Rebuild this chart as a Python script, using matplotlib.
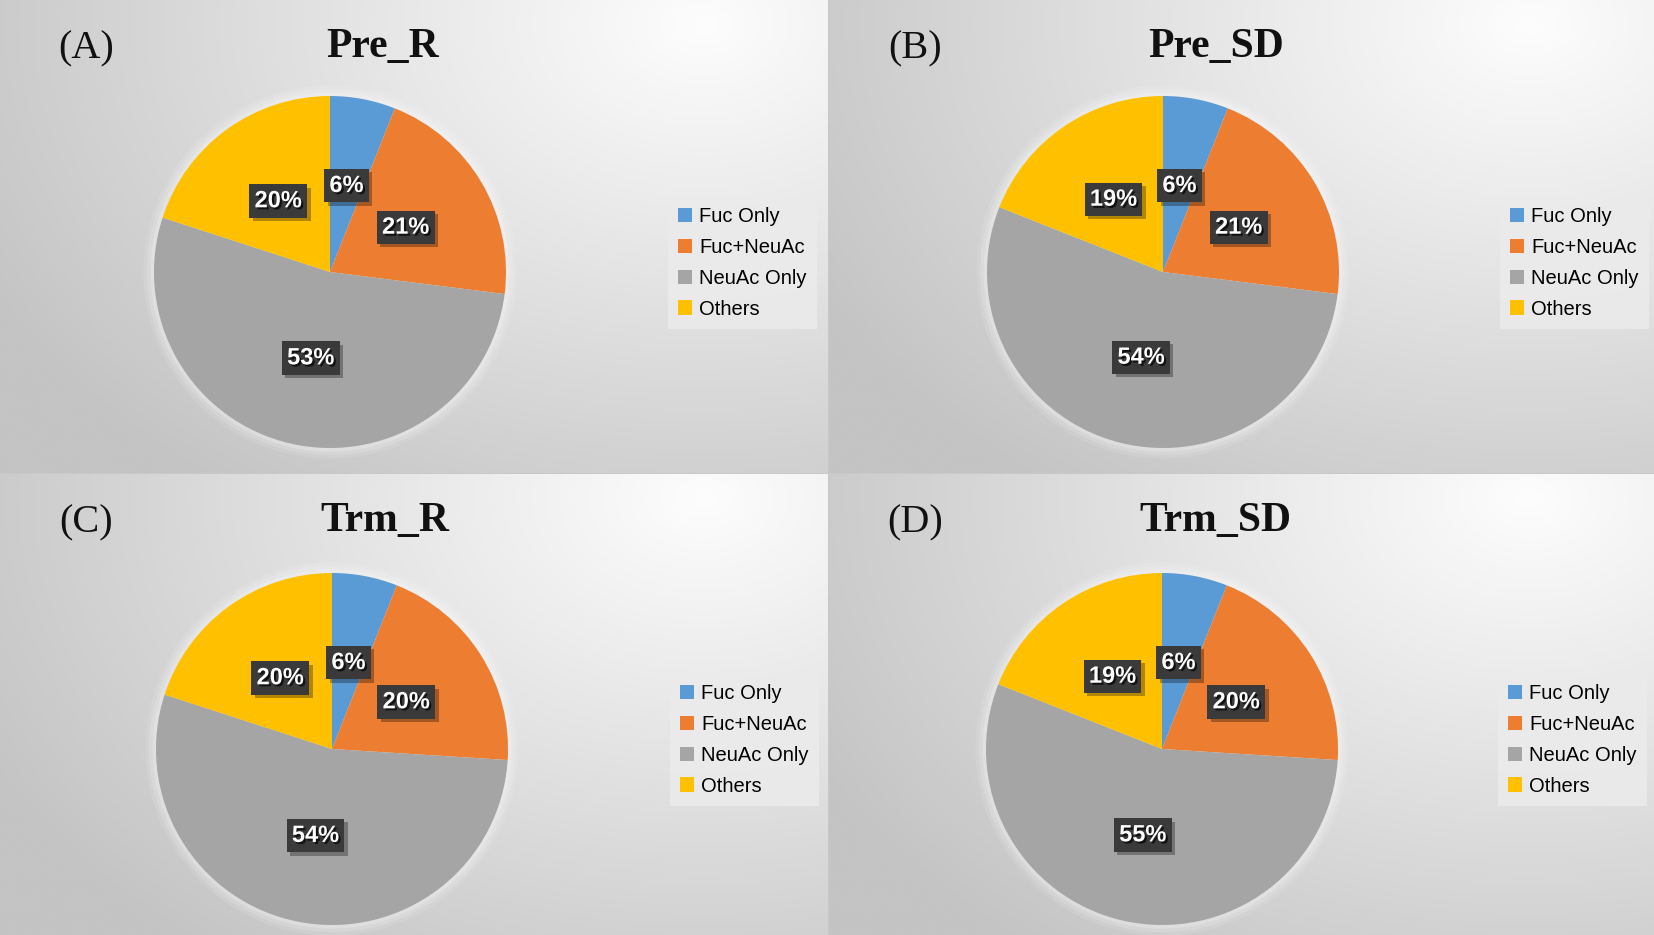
import matplotlib.pyplot as plt
import matplotlib.patheffects as pe
from matplotlib.patches import Circle
import numpy as np

# data
categories = ['Fuc Only', 'Fuc+NeuAc', 'NeuAc Only', 'Others']
colors = ['#5B9BD5', '#ED7D31', '#A5A5A5', '#FFC000']
panel_tags = ['(A)', '(B)', '(C)', '(D)']
titles = ['Pre_R', 'Pre_SD', 'Trm_R', 'Trm_SD']
pre_r = [6, 21, 53, 20]
pre_sd = [6, 21, 54, 19]
trm_r = [6, 20, 54, 20]
trm_sd = [6, 20, 55, 19]
series = [pre_r, pre_sd, trm_r, trm_sd]

W, H = 1654, 935
fig = plt.figure(figsize=(W / 100, H / 100), dpi=100)
fig.patch.set_facecolor('#c8c8c8')

# panel boxes in pixels (x0, y0 from top, w, h)
panels = [(0, 0, 828, 473), (829, 0, 825, 473),
          (0, 474, 828, 461), (829, 474, 825, 461)]
# pie centres in pixels
centres = [(330, 272), (1163, 272), (332, 749), (1162, 749)]
R = 176
M = 1.15  # margin around pie for the glow
legend_left = [668, 1500, 670, 1498]


def fx(px):
    return px / W


def fy(py):
    return 1 - py / H


for k in range(4):
    x0, y0, pw, ph = panels[k]
    # gradient background
    bg = fig.add_axes([fx(x0), fy(y0 + ph), pw / W, ph / H])
    bg.set_axis_off()
    xx, yy = np.meshgrid(np.linspace(0, 1, 300), np.linspace(0, 1, 200))
    d = np.sqrt(((xx - 0.85) * pw) ** 2 + ((yy - 0.05) * ph * 1.4) ** 2)
    g = np.clip(253 - d * 0.07, 196, 253) / 255.0
    bg.imshow(np.dstack([g, g, g]), aspect='auto', extent=[0, 1, 0, 1],
              origin='upper', interpolation='bilinear')
    bg.set_xlim(0, 1)
    bg.set_ylim(0, 1)

    # pie
    cx, cy = centres[k]
    ax = fig.add_axes([fx(cx - R * M), fy(cy + R * M), 2 * R * M / W, 2 * R * M / H])
    for r, a in [(1.06, 0.10), (1.04, 0.14), (1.02, 0.2)]:
        ax.add_patch(Circle((0, 0), r, facecolor='white', edgecolor='none',
                            alpha=a, zorder=0))
    wedges, texts, autotexts = ax.pie(
        series[k], colors=colors, startangle=90, counterclock=False,
        autopct='%1.0f%%', pctdistance=0.5, radius=1,
        wedgeprops=dict(linewidth=0, zorder=1),
        textprops=dict(color='white', fontsize=17, fontweight='bold',
                       family='Liberation Sans', zorder=3))
    for t in autotexts:
        t.set_bbox(dict(boxstyle='square,pad=0.22', facecolor='#3a3a3a',
                        edgecolor='none'))
        t.get_bbox_patch().set_path_effects(
            [pe.SimplePatchShadow(offset=(2.5, -2.5), shadow_rgbFace='black', alpha=0.3),
             pe.Normal()])
        t.set_path_effects([pe.withSimplePatchShadow(offset=(1.5, -1.5),
                                                     shadow_rgbFace='black',
                                                     alpha=0.7)])
    ax.set_xlim(-M, M)
    ax.set_ylim(-M, M)
    ax.set_aspect('equal')
    ax.set_axis_off()

    # titles
    fig.text(fx(cx + 53), fy(y0 + 47), titles[k], ha='center', va='center',
             fontsize=30, fontweight='bold', family='Liberation Serif',
             color='#111111')
    fig.text(fx(x0 + 86), fy(y0 + 49), panel_tags[k], ha='center', va='center',
             fontsize=29, family='Liberation Serif', color='#111111')

    # legend
    leg = ax.legend(wedges, categories, loc='center left',
                    bbox_to_anchor=(fx(legend_left[k]), fy(cy - 9)),
                    bbox_transform=fig.transFigure,
                    prop=dict(family='Liberation Sans', size=14.5),
                    handlelength=0.7, handleheight=0.7, handletextpad=0.35,
                    labelspacing=0.58, borderpad=0.5, borderaxespad=0,
                    fancybox=False, frameon=True)
    leg.get_frame().set_facecolor('#ebebeb')
    leg.get_frame().set_edgecolor('none')
    leg.get_frame().set_alpha(0.9)

fig.savefig('out.png', dpi=100)
